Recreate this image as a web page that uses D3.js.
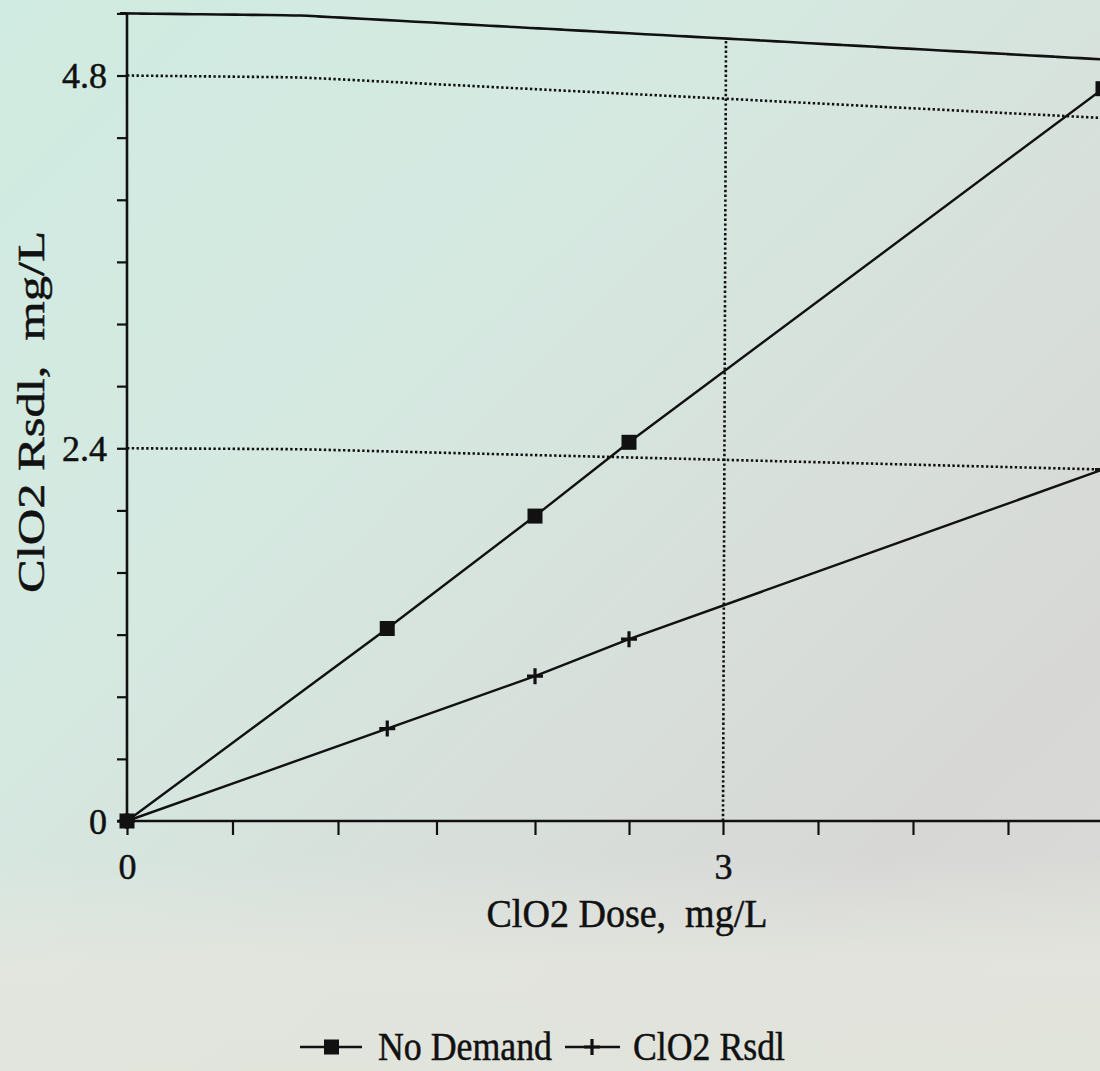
<!DOCTYPE html>
<html>
<head>
<meta charset="utf-8">
<script src="https://cdn.jsdelivr.net/npm/d3@7"></script>
<style>
  html, body { margin: 0; padding: 0; background: #dadfdb; }
  svg { display: block; }
  text { font-family: "Liberation Serif", "Times New Roman", serif; fill: #111; stroke: #111; stroke-width: 0.5; }
</style>
</head>
<body>
<svg id="chart" width="1100" height="1071"></svg>
<script>
// ClO2 dose (mg/L) and the measured residuals
const doses     = [0, 1.25, 2, 2.5, 5];
const noDemand  = [0, 1.25, 2, 2.5, 5];
const clo2Rsdl  = [0, 0.6, 0.95, 1.2, 2.4];

// axis ticks and labelled ticks
const xTicks      = [0, 0.5, 1, 1.5, 2, 2.5, 3, 3.5, 4, 4.5, 5];
const xTickLabels = [0, 3];
const yTicks      = [0, 0.4, 0.8, 1.2, 1.6, 2, 2.4, 2.8, 3.2, 3.6, 4, 4.4, 4.8, 5.2];
const yTickLabels = [0, 2.4, 4.8];
const yMax = 5.2;

const xTitle = "ClO2 Dose,  mg/L";
const yTitle = "ClO2 Rsdl,  mg/L";
const seriesNames = ["No Demand", "ClO2 Rsdl"];

const svg = d3.select("#chart");
const W = 1100, H = 1071;

// ---- paper background -------------------------------------------------
const defs = svg.append("defs");
const bg = defs.append("linearGradient").attr("id", "paper")
  .attr("x1", 0).attr("y1", 0).attr("x2", 1).attr("y2", 1);
[["0", "#d0ebe1"], ["0.35", "#d5e9e1"], ["0.6", "#d8dfdb"], ["0.8", "#d7d8d6"], ["1", "#dbdcd7"]]
  .forEach(([o, c]) => bg.append("stop").attr("offset", o).attr("stop-color", c));
const bottomFade = defs.append("linearGradient").attr("id", "bottomFade")
  .attr("x1", 0).attr("y1", 0).attr("x2", 0).attr("y2", 1);
[["0", "#e5e7df", 0], ["0.8", "#e5e7df", 0], ["0.9", "#e4e6de", 0.8], ["1", "#e2e5dc", 0.9]]
  .forEach(([o, c, a]) => bottomFade.append("stop").attr("offset", o).attr("stop-color", c).attr("stop-opacity", a));
svg.append("rect").attr("width", W).attr("height", H).attr("fill", "url(#paper)");
svg.append("rect").attr("width", W).attr("height", H).attr("fill", "url(#bottomFade)");

// ---- scales -----------------------------------------------------------
// the x axis is slightly foreshortened toward the right edge of the sheet
const x = d3.scaleLinear().domain([0, 1, 2, 3, 5]).range([127, 338, 535, 723, 1103]);
const y = d3.scaleLinear().domain([0, yMax]).range([821, 13.4]);

// the sheet sags on the right: points drop further the higher they sit
const sag = d3.scaleLinear().domain([127, 300, 723, 1103]).range([0, 2, 25, 46]);
const warpY = (px, py) => py + ((y(0) - py) / (y(0) - y(yMax))) * sag(px);
const pt = (xv, yv) => [x(xv), warpY(x(xv), y(yv))];

// a horizontal reference line drawn across the sagging sheet
const hLine = (val, x0px, x1px) => {
  const n = 60, pts = [];
  for (let i = 0; i <= n; i++) {
    const px = x0px + (x1px - x0px) * i / n;
    pts.push([px, warpY(px, y(val))]);
  }
  return d3.line().curve(d3.curveBasis)(pts);
};

// ---- grid -------------------------------------------------------------
const grid = svg.append("g").attr("fill", "none").attr("stroke", "#111")
  .attr("stroke-width", 2.6).attr("stroke-dasharray", "2.4,2.4");
yTickLabels.filter(v => v > 0).forEach(v => {
  grid.append("path").attr("d", hLine(v, x(0), W + 5));
});
xTickLabels.filter(v => v > 0).forEach(v => {
  grid.append("path").attr("d", d3.line()([[x(v), y(0)], [x(v) + 3, warpY(x(v), y(yMax))]]));
});

// top frame of the plot
svg.append("path").attr("d", hLine(yMax, x(0) - 7, W + 5))
  .attr("fill", "none").attr("stroke", "#111").attr("stroke-width", 2.6);

// ---- axes -------------------------------------------------------------
const fmt = v => String(v);
const xAxis = d3.axisBottom(x).tickValues(xTicks).tickSize(14).tickPadding(10)
  .tickFormat(v => xTickLabels.includes(v) ? fmt(v) : "");
const yAxis = d3.axisLeft(y).tickValues(yTicks).tickSize(10).tickPadding(10)
  .tickFormat(v => yTickLabels.some(l => Math.abs(l - v) < 1e-9) ? fmt(v) : "");

const gx = svg.append("g").attr("transform", `translate(0,${y(0)})`).call(xAxis);
const gy = svg.append("g").attr("transform", `translate(${x(0)},0)`).call(yAxis);
[gx, gy].forEach(g => {
  g.select(".domain").remove();
  g.selectAll(".tick line").attr("stroke", "#111").attr("stroke-width", 2.2);
  g.selectAll(".tick text").attr("font-size", 36)
    .attr("font-family", "'Liberation Serif', serif").attr("fill", "#111");
});
gx.selectAll(".tick text").attr("dy", "0.95em");
gy.selectAll(".tick text").attr("dy", "0.34em");

// axis lines
svg.append("line").attr("x1", x(0) - 10).attr("x2", W + 5).attr("y1", y(0)).attr("y2", y(0))
  .attr("stroke", "#111").attr("stroke-width", 2.6);
svg.append("line").attr("x1", x(0)).attr("x2", x(0)).attr("y1", y(0)).attr("y2", y(yMax))
  .attr("stroke", "#111").attr("stroke-width", 2.6);

// axis titles
svg.append("text").attr("x", 627).attr("y", 927).attr("text-anchor", "middle")
  .attr("font-size", 40).attr("textLength", 281).attr("lengthAdjust", "spacingAndGlyphs")
  .style("white-space", "pre").text(xTitle);
svg.append("text").attr("transform", "translate(44,412) rotate(-90)").attr("text-anchor", "middle")
  .attr("font-size", 38).attr("textLength", 362).attr("lengthAdjust", "spacingAndGlyphs")
  .style("white-space", "pre").text(yTitle);

// ---- series -----------------------------------------------------------
const line = d3.line();
const nd = doses.map((d, i) => pt(d, noDemand[i]));
const cr = doses.map((d, i) => pt(d, clo2Rsdl[i]));

const plot = svg.append("g");
plot.append("path").attr("d", line(cr)).attr("fill", "none").attr("stroke", "#111").attr("stroke-width", 2.4);
plot.append("path").attr("d", line(nd)).attr("fill", "none").attr("stroke", "#111").attr("stroke-width", 2.4);

const crossPath = s => `M${-s},0H${s}M0,${-s}V${s}`;
plot.selectAll(".plus").data(cr).join("path").attr("class", "plus")
  .attr("transform", d => `translate(${d[0]},${d[1]})`)
  .attr("d", crossPath(8)).attr("stroke", "#111").attr("stroke-width", 3.2).attr("fill", "none");
plot.selectAll(".sq").data(nd).join("rect").attr("class", "sq")
  .attr("x", d => d[0] - 7.5).attr("y", d => d[1] - 7.5)
  .attr("width", 15).attr("height", 15).attr("fill", "#111");

// ---- legend -----------------------------------------------------------
const leg = svg.append("g");
const ly = 1047;
leg.append("line").attr("x1", 300).attr("x2", 362).attr("y1", ly).attr("y2", ly)
  .attr("stroke", "#111").attr("stroke-width", 2.6);
leg.append("rect").attr("x", 324).attr("y", ly - 7.5).attr("width", 15).attr("height", 15).attr("fill", "#111");
leg.append("text").attr("x", 378).attr("y", ly + 13).attr("font-size", 40)
  .attr("textLength", 174).attr("lengthAdjust", "spacingAndGlyphs").text(seriesNames[0]);
leg.append("line").attr("x1", 565).attr("x2", 620).attr("y1", ly).attr("y2", ly)
  .attr("stroke", "#111").attr("stroke-width", 2.6);
leg.append("path").attr("transform", `translate(592,${ly})`).attr("d", crossPath(8))
  .attr("stroke", "#111").attr("stroke-width", 3.2);
leg.append("text").attr("x", 633).attr("y", ly + 13).attr("font-size", 40)
  .attr("textLength", 152).attr("lengthAdjust", "spacingAndGlyphs").style("white-space", "pre").text(seriesNames[1]);
</script>
</body>
</html>
